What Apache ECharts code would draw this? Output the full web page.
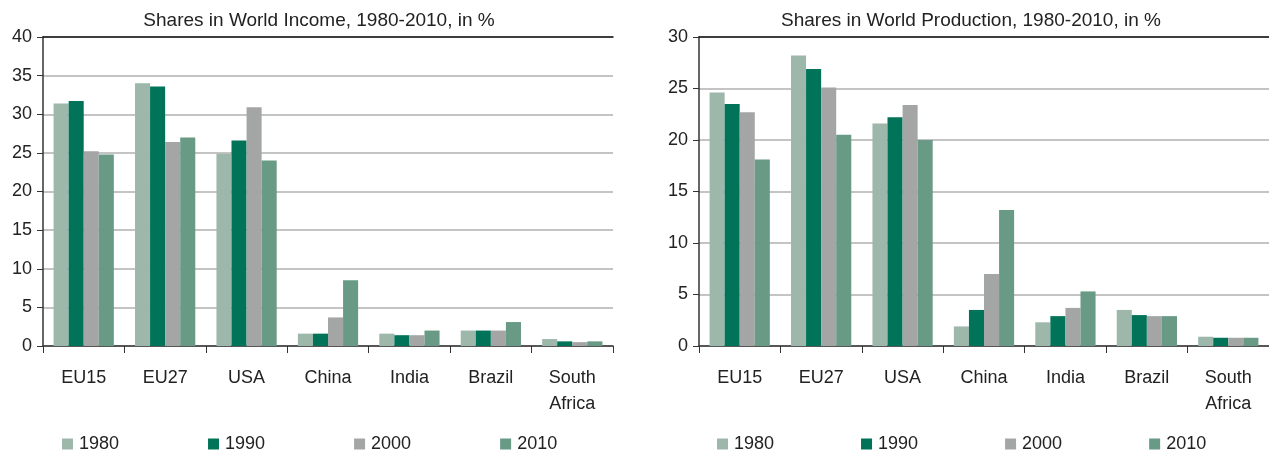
<!DOCTYPE html>
<html>
<head>
<meta charset="utf-8">
<script src="https://cdn.jsdelivr.net/npm/echarts@6/dist/echarts.min.js"></script>
<style>
  html, body { margin: 0; padding: 0; background: #fff; }
  #chart { width: 1269px; height: 453px; }
</style>
</head>
<body>
<div id="chart"></div>
<script>
// categories and years
var countries = ['EU15', 'EU27', 'USA', 'China', 'India', 'Brazil', 'South\nAfrica'];
var years = ['1980', '1990', '2000', '2010'];

// shares in world income, %
var income1980 = [31.4, 34.0, 24.9, 1.6, 1.6, 2.0, 0.9];
var income1990 = [31.7, 33.6, 26.6, 1.6, 1.4, 2.0, 0.6];
var income2000 = [25.2, 26.4, 30.9, 3.7, 1.4, 2.0, 0.5];
var income2010 = [24.8, 27.0, 24.0, 8.5, 2.0, 3.1, 0.6];

// shares in world production, %
var prod1980 = [24.6, 28.2, 21.6, 1.9, 2.3, 3.5, 0.9];
var prod1990 = [23.5, 26.9, 22.2, 3.5, 2.9, 3.0, 0.8];
var prod2000 = [22.7, 25.1, 23.4, 7.0, 3.7, 2.9, 0.8];
var prod2010 = [18.1, 20.5, 20.0, 13.2, 5.3, 2.9, 0.8];

var colors = ['#9db8aa', '#007358', '#a4a6a5', '#699a86'];
var font = 'Liberation Sans';

var chart = echarts.init(document.getElementById('chart'));

function xAxes(gi) {
    return [{
        type: 'category',
        gridIndex: gi,
        data: countries,
        axisLine: { lineStyle: { color: '#333', width: 1.5 } },
        axisTick: { show: true, length: 7, lineStyle: { color: '#333' } },
        axisLabel: { color: '#222', fontSize: 18, fontFamily: font, margin: 19, lineHeight: 26 }
    }, {
        // dark frame line on top of the plot
        type: 'category',
        gridIndex: gi,
        position: 'top',
        data: countries,
        axisLine: { lineStyle: { color: '#111', width: 1.5 } },
        axisTick: { show: false },
        axisLabel: { show: false }
    }];
}

function yAxis(gi, max) {
    return {
        type: 'value',
        gridIndex: gi,
        min: 0,
        max: max,
        interval: 5,
        axisLine: { show: true, lineStyle: { color: '#333', width: 1.5 } },
        axisTick: { show: true, length: 6, lineStyle: { color: '#333' } },
        axisLabel: { color: '#222', fontSize: 18, fontFamily: font, margin: 11 },
        splitLine: { lineStyle: { color: '#b0b0b0', width: 1.5 } }
    };
}

function bars(idx, lists) {
    return lists.map(function (d, i) {
        return {
            name: years[i],
            type: 'bar',
            xAxisIndex: idx * 2,
            yAxisIndex: idx,
            data: d,
            barGap: '0%',
            barCategoryGap: '26%',
            itemStyle: { color: colors[i] }
        };
    });
}

function legend(left, gap) {
    return {
        data: years,
        left: left, top: 435,
        padding: 0,
        itemWidth: 11, itemHeight: 11, itemGap: gap,
        icon: 'rect',
        textStyle: { fontSize: 18, color: '#222', fontFamily: font, padding: [0, 0, 0, 1] }
    };
}

var option = {
    animation: false,
    title: [{
        text: 'Shares in World Income, 1980-2010, in %',
        left: 314, top: 6, textAlign: 'center',
        textStyle: { fontSize: 19, fontWeight: 'normal', color: '#222', fontFamily: font }
    }, {
        text: 'Shares in World Production, 1980-2010, in %',
        left: 966, top: 6, textAlign: 'center',
        textStyle: { fontSize: 19, fontWeight: 'normal', color: '#222', fontFamily: font }
    }],
    legend: [legend(62, 89), legend(717, 87)],
    grid: [
        { left: 43, right: 656, top: 37, bottom: 107 },
        { left: 699, right: 0, top: 37, bottom: 107 }
    ],
    xAxis: xAxes(0).concat(xAxes(1)),
    yAxis: [yAxis(0, 40), yAxis(1, 30)],
    series: bars(0, [income1980, income1990, income2000, income2010])
        .concat(bars(1, [prod1980, prod1990, prod2000, prod2010]))
};

chart.setOption(option);
</script>
</body>
</html>
